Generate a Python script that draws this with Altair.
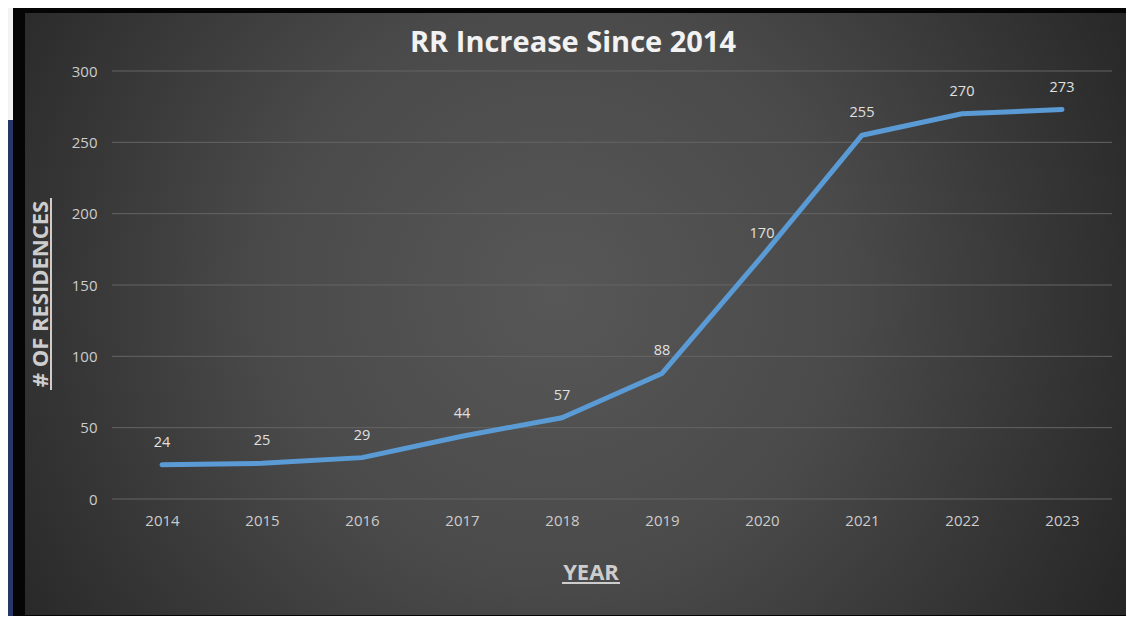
import altair as alt
import pandas as pd

# ---- data ----
years = ["2014", "2015", "2016", "2017", "2018", "2019", "2020", "2021", "2022", "2023"]
residences = [24, 25, 29, 44, 57, 88, 170, 255, 270, 273]
y_ticks = [0, 50, 100, 150, 200, 250, 300]

title_text = "RR Increase Since 2014"
y_title_text = "# OF RESIDENCES"
x_title_text = "YEAR"

df = pd.DataFrame({"year": years, "residences": residences})
grid_df = pd.DataFrame({"residences": y_ticks})
one = alt.Data(values=[{"k": 1}])

FONT = "Open Sans"

y_scale = alt.Scale(domain=[0, 300], nice=False, zero=True)
x_scale = alt.Scale(type="point", padding=0.5)

y_axis = alt.Axis(
    values=y_ticks, title=None, grid=False, domain=False, ticks=False,
    labelColor="#cccccc", labelFont=FONT, labelFontSize=15, labelPadding=15,
    zindex=1,
)
x_axis = alt.Axis(
    title=None, grid=False, domain=False, ticks=False, labelAngle=0,
    labelColor="#cccccc", labelFont=FONT, labelFontSize=15, labelPadding=14,
    zindex=1,
)

# ---- decorative background (frame, side strip, gradient panel) ----
frame = alt.Chart(one).mark_rect(color="#050505", cornerRadius=8).encode(
    x=alt.value(-99), x2=alt.value(1030), y=alt.value(-70), y2=alt.value(560)
)
navy = alt.Chart(one).mark_rect(color="#263766").encode(
    x=alt.value(-112), x2=alt.value(-99), y=alt.value(49), y2=alt.value(560)
)
panel = alt.Chart(one).mark_rect(
    fill={
        "gradient": "radial",
        "x1": 0.48, "y1": 0.48, "r1": 0.0,
        "x2": 0.48, "y2": 0.48, "r2": 0.58,
        "stops": [
            {"offset": 0.0, "color": "#575757"},
            {"offset": 0.45, "color": "#4a4a4a"},
            {"offset": 1.0, "color": "#272727"},
        ],
    }
).encode(
    x=alt.value(-87), x2=alt.value(1019), y=alt.value(-58), y2=alt.value(544)
)

# ---- gridlines ----
grid = alt.Chart(grid_df).mark_rule(color="#646464", strokeWidth=1).encode(
    y=alt.Y("residences:Q", scale=y_scale, axis=y_axis),
    x=alt.value(0), x2=alt.value(1000),
)

base = alt.Chart(df).encode(
    x=alt.X("year:O", scale=x_scale, axis=x_axis, sort=years),
    y=alt.Y("residences:Q", scale=y_scale, axis=y_axis),
)

line = base.mark_line(
    color="#5b9bd5", strokeWidth=5, strokeJoin="round", strokeCap="round"
)
labels = base.mark_text(
    dy=-22, color="#e0e0e0", font=FONT, fontSize=14.5, baseline="middle", align="center"
).encode(text="residences:Q")

# ---- titles (real text) and their underlines ----
title = alt.Chart(one).mark_text(
    text=title_text, font=FONT, fontSize=29, fontWeight="bold", color="#f2f2f2",
    align="center", baseline="alphabetic",
).encode(x=alt.value(461), y=alt.value(-19))

y_title = alt.Chart(one).mark_text(
    text=y_title_text, font=FONT, fontSize=22, fontWeight="bold", color="#cdcdcd",
    align="center", baseline="alphabetic", angle=270,
).encode(x=alt.value(-64), y=alt.value(223))
y_under = alt.Chart(one).mark_rule(color="#cdcdcd", strokeWidth=2).encode(
    x=alt.value(-61), y=alt.value(127), y2=alt.value(319)
)

x_title = alt.Chart(one).mark_text(
    text=x_title_text, font=FONT, fontSize=22, fontWeight="bold", color="#cdcdcd",
    align="center", baseline="alphabetic",
).encode(x=alt.value(479), y=alt.value(509))
x_under = alt.Chart(one).mark_rule(color="#cdcdcd", strokeWidth=2).encode(
    x=alt.value(450), x2=alt.value(508), y=alt.value(512)
)

chart = alt.layer(
    frame, navy, panel, grid, line, labels, title, y_title, y_under, x_title, x_under
).properties(
    width=1000,
    height=428,
    autosize=alt.AutoSizeParams(type="none"),
    padding={"left": 104, "top": 63, "right": 14, "bottom": 117},
    background="#f3f3f3",
).configure_view(strokeWidth=0)

chart.save("out.html", embed_options={"renderer": "svg", "actions": False})
